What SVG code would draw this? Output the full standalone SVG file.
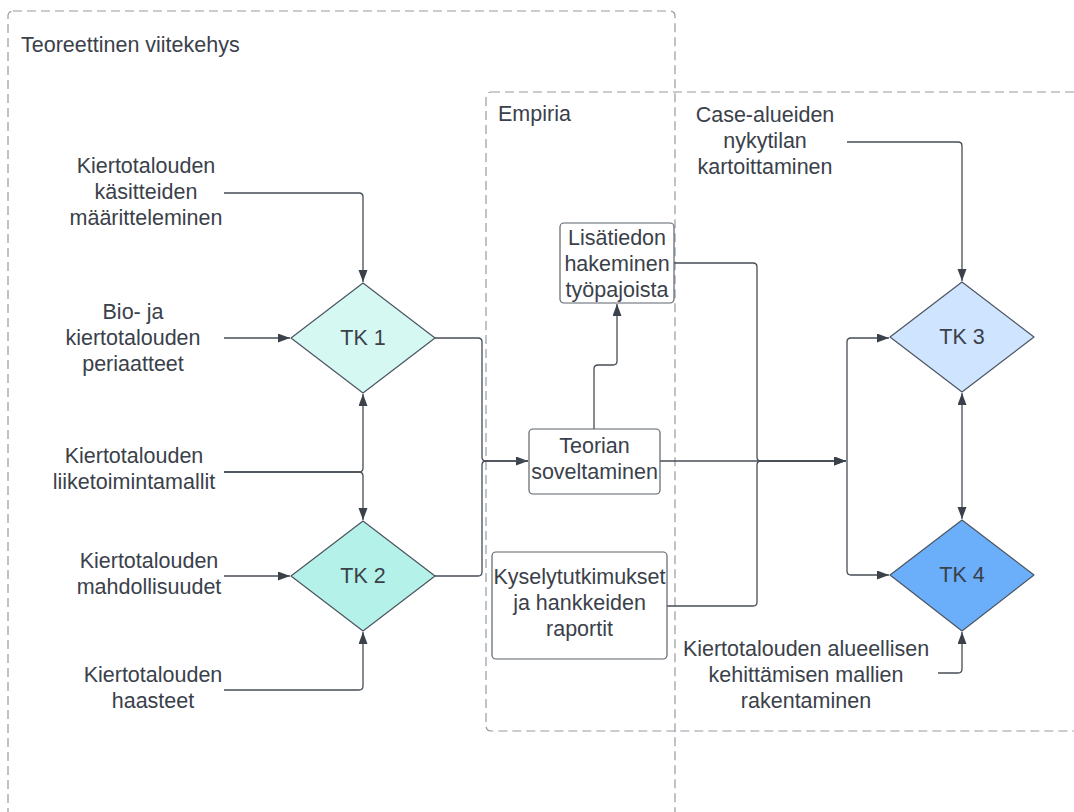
<svg xmlns="http://www.w3.org/2000/svg" width="1074" height="812" viewBox="0 0 1074 812">
  <style>
    .lbl { font-family: "Liberation Sans", Arial, sans-serif; font-size: 21.5px; fill: #3a414a; text-anchor: middle; }
    .title { font-family: "Liberation Sans", Arial, sans-serif; font-size: 21.5px; fill: #3a414a; }
    .frame { fill: none; stroke: #959aa1; stroke-width: 1.2; stroke-dasharray: 9 5; }
    .box { fill: #ffffff; stroke: #5d646c; stroke-width: 1.2; }
    .dia { stroke: #4c5561; stroke-width: 1.2; stroke-linejoin: round; }
    .wire { fill: none; stroke: #474e56; stroke-width: 1.3; }
  </style>
  <defs>
    <marker id="arrow" markerUnits="userSpaceOnUse" markerWidth="13" markerHeight="10" refX="12" refY="4.5" orient="auto-start-reverse">
      <path d="M0,0 L12,4.5 L0,9 z" fill="#3a414a"/>
    </marker>
  </defs>

  <rect width="1074" height="812" fill="#ffffff"/>

  <!-- containers -->
  <g id="teoreettinen-viitekehys">
    <rect class="frame" x="8" y="11" width="667" height="820" rx="5"/>
    <text class="title" x="21" y="52">Teoreettinen viitekehys</text>
  </g>
  <g id="empiria">
    <rect class="frame" x="486" y="92" width="620" height="639" rx="5"/>
    <text class="title" x="498" y="121">Empiria</text>
  </g>

  <!-- connectors -->
  <g id="connectors">
    <path class="wire" d="M224,193 H359 Q363,193 363,197 V282" marker-end="url(#arrow)"/>
    <path class="wire" d="M224,338 H290" marker-end="url(#arrow)"/>
    <path class="wire" d="M224,472 H359 Q363,472 363,468 V394" marker-end="url(#arrow)"/>
    <path class="wire" d="M224,472 H359 Q363,472 363,476 V520" marker-end="url(#arrow)"/>
    <path class="wire" d="M224,576 H290" marker-end="url(#arrow)"/>
    <path class="wire" d="M224,690 H359 Q363,690 363,686 V632" marker-end="url(#arrow)"/>
    <path class="wire" d="M435,338 H478 Q482,338 482,342 V457 Q482,461 486,461 H528" marker-end="url(#arrow)"/>
    <path class="wire" d="M435,576 H478 Q482,576 482,572 V465 Q482,461 486,461 H528"/>
    <path class="wire" d="M594,429 V369 Q594,365 598,365 H613 Q617,365 617,361 V304" marker-end="url(#arrow)"/>
    <path class="wire" d="M674,263 H753 Q757,263 757,267 V457 Q757,461 761,461 H846" marker-end="url(#arrow)"/>
    <path class="wire" d="M667,606 H753 Q757,606 757,602 V465 Q757,461 761,461 H846"/>
    <path class="wire" d="M660,461 H846" marker-end="url(#arrow)"/>
    <path class="wire" d="M847,461 V342 Q847,338 851,338 H889" marker-end="url(#arrow)"/>
    <path class="wire" d="M847,461 V571 Q847,575 851,575 H889" marker-end="url(#arrow)"/>
    <path class="wire" d="M847,142 H958 Q962,142 962,146 V281" marker-end="url(#arrow)"/>
    <path class="wire" d="M962,393 V519" marker-start="url(#arrow)" marker-end="url(#arrow)"/>
    <path class="wire" d="M938,673 H958 Q962,673 962,669 V632" marker-end="url(#arrow)"/>
  </g>

  <!-- input labels -->
  <g id="kasitteet">
    <text class="lbl"><tspan x="146" y="173">Kiertotalouden</tspan><tspan x="146" y="199">käsitteiden</tspan><tspan x="146" y="225">määritteleminen</tspan></text>
  </g>
  <g id="periaatteet">
    <text class="lbl"><tspan x="133" y="319">Bio- ja</tspan><tspan x="133" y="345">kiertotalouden</tspan><tspan x="133" y="371">periaatteet</tspan></text>
  </g>
  <g id="liiketoimintamallit">
    <text class="lbl"><tspan x="134" y="463">Kiertotalouden</tspan><tspan x="134" y="489">liiketoimintamallit</tspan></text>
  </g>
  <g id="mahdollisuudet">
    <text class="lbl"><tspan x="149" y="568">Kiertotalouden</tspan><tspan x="149" y="594">mahdollisuudet</tspan></text>
  </g>
  <g id="haasteet">
    <text class="lbl"><tspan x="153" y="682">Kiertotalouden</tspan><tspan x="153" y="708">haasteet</tspan></text>
  </g>
  <g id="nykytila">
    <text class="lbl"><tspan x="765" y="122">Case-alueiden</tspan><tspan x="765" y="148">nykytilan</tspan><tspan x="765" y="174">kartoittaminen</tspan></text>
  </g>
  <g id="mallit">
    <text class="lbl"><tspan x="806" y="656">Kiertotalouden alueellisen</tspan><tspan x="806" y="682">kehittämisen mallien</tspan><tspan x="806" y="708">rakentaminen</tspan></text>
  </g>

  <!-- decision nodes -->
  <g id="tk1">
    <path class="dia" d="M363,283 L435,338 L363,393 L291,338 Z" fill="#d6f8f2"/>
    <text class="lbl" x="363" y="345">TK 1</text>
  </g>
  <g id="tk2">
    <path class="dia" d="M363,521 L435,576 L363,631 L291,576 Z" fill="#b4f1e8"/>
    <text class="lbl" x="363" y="583">TK 2</text>
  </g>
  <g id="tk3">
    <path class="dia" d="M962,282 L1034,337 L962,392 L890,337 Z" fill="#cfe4ff"/>
    <text class="lbl" x="962" y="344">TK 3</text>
  </g>
  <g id="tk4">
    <path class="dia" d="M962,520 L1034,575 L962,631 L890,575 Z" fill="#6baefa"/>
    <text class="lbl" x="962" y="582">TK 4</text>
  </g>

  <!-- process boxes -->
  <g id="lisatiedon-hakeminen">
    <rect class="box" x="560" y="223" width="114" height="80" rx="4"/>
    <text class="lbl"><tspan x="617" y="245">Lisätiedon</tspan><tspan x="617" y="271">hakeminen</tspan><tspan x="617" y="297">työpajoista</tspan></text>
  </g>
  <g id="teorian-soveltaminen">
    <rect class="box" x="529" y="429" width="131" height="65" rx="4"/>
    <text class="lbl"><tspan x="594.5" y="453">Teorian</tspan><tspan x="594.5" y="479">soveltaminen</tspan></text>
  </g>
  <g id="kyselytutkimukset">
    <rect class="box" x="492" y="552" width="175" height="107" rx="4"/>
    <text class="lbl"><tspan x="579.5" y="584">Kyselytutkimukset</tspan><tspan x="579.5" y="610">ja hankkeiden</tspan><tspan x="579.5" y="636">raportit</tspan></text>
  </g>
</svg>
